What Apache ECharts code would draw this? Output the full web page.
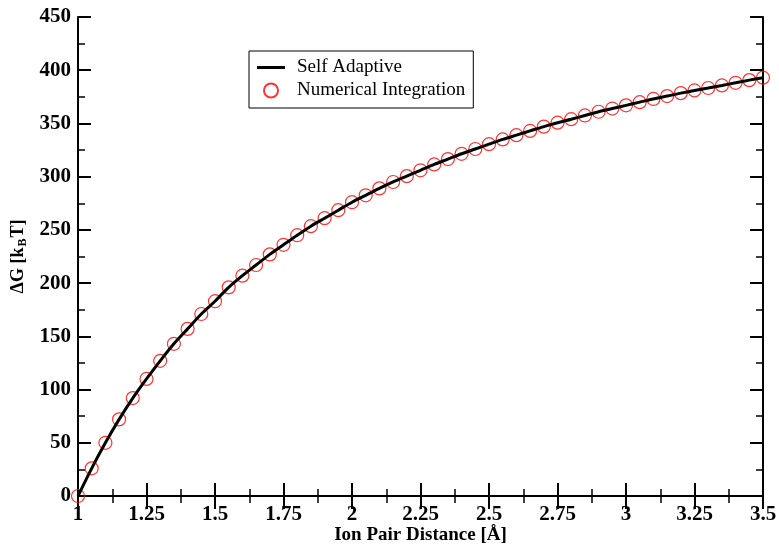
<!DOCTYPE html>
<html>
<head>
<meta charset="utf-8">
<script src="https://cdn.jsdelivr.net/npm/echarts@6/dist/echarts.min.js"></script>
<style>html,body{margin:0;padding:0;background:#fff}#c{width:779px;height:546px}</style>
</head>
<body>
<div id="c"></div>
<script>
var distances = [1.00,1.05,1.10,1.15,1.20,1.25,1.30,1.35,1.40,1.45,1.50,1.55,1.60,1.65,1.70,1.75,1.80,1.85,1.90,1.95,2.00,2.05,2.10,2.15,2.20,2.25,2.30,2.35,2.40,2.45,2.50,2.55,2.60,2.65,2.70,2.75,2.80,2.85,2.90,2.95,3.00,3.05,3.10,3.15,3.20,3.25,3.30,3.35,3.40,3.45,3.50];
var numericalIntegration = [0,26,50,72,92,110,127,143,157,171,183,196,207,217,227,236,245,253.5,261,268.5,276,282.5,289,295,300.5,306,311.5,316.5,321.5,326,330.5,335,339,343,347,350.7,354,357.5,361,364,367,370,373,375.7,378.5,381,383.3,385.7,388.2,390.7,393];
var selfAdaptive = [0,26,50,72,92,110,127,143,157,171,183,196,207,217,227,236,245,253.5,261,268.5,276,282.5,289,295,300.5,306,311.5,316.5,321.5,326,330.5,335,339,343,347,350.7,354,357.5,361,364,367,370,373,375.7,378.5,381,383.3,385.7,388.2,390.7,393];
var xTicks = {min: 1, max: 3.5, interval: 0.25};
var yTicks = {min: 0, max: 450, interval: 50};
var seriesNames = ['Self Adaptive', 'Numerical Integration'];

function pairs(xs, ys){ return xs.map(function(x,i){ return [x, ys[i]]; }); }

var FONT = 'Liberation Serif';
var tickLabel = {fontFamily: FONT, fontWeight: 'bold', fontSize: 21, color: '#000'};
function axisCommon(extra){
  var base = {
    type: 'value',
    axisLine: {show: true, lineStyle: {color: '#000', width: 2}},
    axisTick: {show: true, inside: true, length: 13, lineStyle: {color: '#000', width: 2}},
    minorTick: {show: true, splitNumber: 2, length: 7, lineStyle: {color: '#000', width: 1.5}},
    splitLine: {show: false},
    minorSplitLine: {show: false}
  };
  for (var k in extra) base[k] = extra[k];
  return base;
}

var chart = echarts.init(document.getElementById('c'), null, {renderer: 'canvas'});
chart.setOption({
  backgroundColor: '#fff',
  animation: false,
  grid: {left: 78, right: 16, top: 17, bottom: 50, containLabel: false, outerBoundsMode: 'none'},
  legend: {
    orient: 'vertical', left: 249, top: 51,
    data: [
      {name: seriesNames[0], icon: 'path://M0,0L0.01,0ZM0,5.5L28,5.5L28,8.5L0,8.5ZM0,14L0.01,14Z', itemStyle: {color: '#000', borderWidth: 0}},
      {name: seriesNames[1]}
    ],
    borderColor: '#000', borderWidth: 1,
    padding: [7, 8, 8, 8],
    itemWidth: 28, itemHeight: 14, itemGap: 4,
    textStyle: {fontFamily: FONT, fontSize: 19, color: '#000', padding: [0, 0, 0, 7]}
  },
  xAxis: [
    axisCommon({min: xTicks.min, max: xTicks.max, interval: xTicks.interval, position: 'bottom',
      name: 'Ion Pair Distance [Å]', nameLocation: 'middle', nameGap: 30, nameMoveOverlap: false,
      nameTextStyle: {fontFamily: FONT, fontWeight: 'bold', fontSize: 19, color: '#000'},
      axisLabel: Object.assign({margin: 8, formatter: function(v){ return String(v); }}, tickLabel)}),
    axisCommon({min: xTicks.min, max: xTicks.max, interval: xTicks.interval, position: 'top',
      axisLabel: {show: false}})
  ],
  yAxis: [
    axisCommon({min: yTicks.min, max: yTicks.max, interval: yTicks.interval, position: 'left',
      name: '{a|ΔG [k}{b|B}{a|T]}', nameLocation: 'middle', nameGap: 50, nameRotate: 90, nameMoveOverlap: false,
      nameTextStyle: {rich: {
        a: {fontFamily: FONT, fontWeight: 'bold', fontSize: 18, color: '#000', lineHeight: 20},
        b: {fontFamily: FONT, fontWeight: 'bold', fontSize: 12, color: '#000', lineHeight: 20, padding: [9, 1, 0, 1]}
      }},
      axisLabel: Object.assign({margin: 7}, tickLabel)}),
    axisCommon({min: yTicks.min, max: yTicks.max, interval: yTicks.interval, position: 'right',
      axisLabel: {show: false}})
  ],
  series: [
    {
      name: seriesNames[0], type: 'line', xAxisIndex: 0, yAxisIndex: 0,
      data: pairs(distances, selfAdaptive),
      symbol: 'none', smooth: 0.3, z: 3,
      lineStyle: {color: '#000', width: 3},
      itemStyle: {color: '#000'}
    },
    {
      name: seriesNames[1], type: 'scatter', xAxisIndex: 0, yAxisIndex: 0,
      data: pairs(distances, numericalIntegration),
      symbol: 'circle', symbolSize: 13, z: 2,
      itemStyle: {color: 'rgba(0,0,0,0)', borderColor: '#ff0000', borderWidth: 1.2}
    }
  ]
});
</script>
</body>
</html>
